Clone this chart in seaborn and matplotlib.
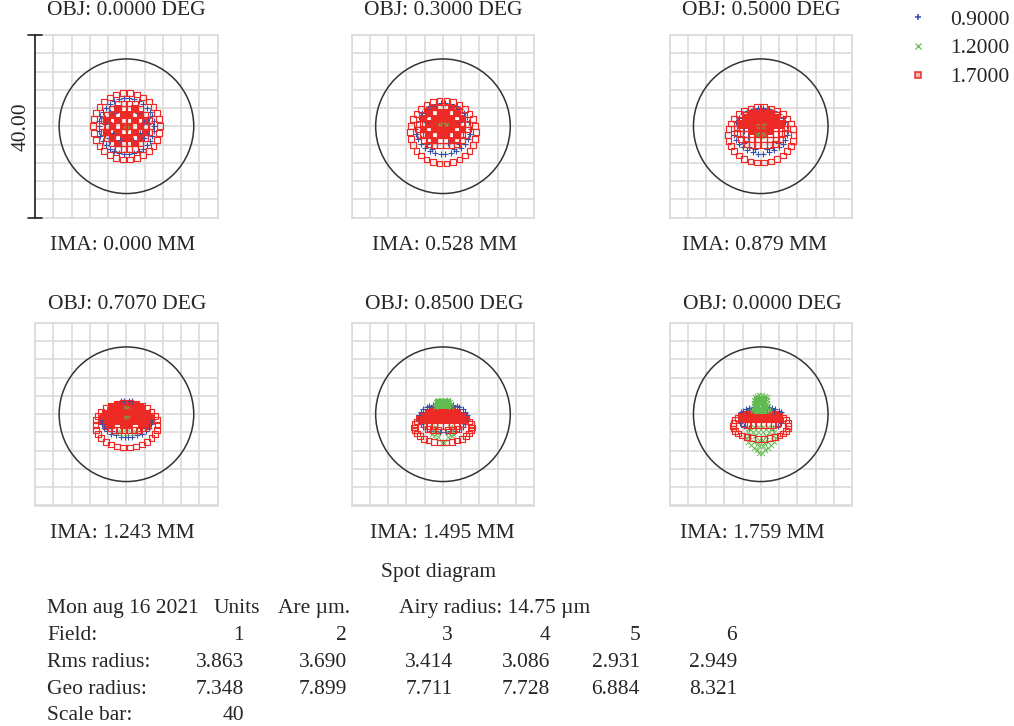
import matplotlib
matplotlib.use("Agg")
import matplotlib.pyplot as plt
from matplotlib.lines import Line2D
from matplotlib.patches import Circle
import pandas as pd
import seaborn as sns

# ---- text and table values ----
OBJ_LABELS = ["OBJ: 0.0000 DEG", "OBJ: 0.3000 DEG", "OBJ: 0.5000 DEG",
              "OBJ: 0.7070 DEG", "OBJ: 0.8500 DEG", "OBJ: 0.0000 DEG"]
IMA_LABELS = ["IMA: 0.000 MM", "IMA: 0.528 MM", "IMA: 0.879 MM",
              "IMA: 1.243 MM", "IMA: 1.495 MM", "IMA: 1.759 MM"]
WAVELENGTHS = ["0.9000", "1.2000", "1.7000"]
FIELDS = ["1", "2", "3", "4", "5", "6"]
RMS = ["3.863", "3.690", "3.414", "3.086", "2.931", "2.949"]
GEO = ["7.348", "7.899", "7.711", "7.728", "6.884", "8.321"]
SCALE_BAR = 40
AIRY_RADIUS = 14.75

# ---- spot positions (um); each list holds the x >= 0 half ----
P1_RED = [(0.76,7.26),(2.26,6.94),(3.65,6.32),(4.88,5.42),(5.91,4.29),(6.67,2.97),(7.14,1.52),(7.3,0),
          (7.14,-1.52),(6.67,-2.97),(5.91,-4.29),(4.88,-5.42),(3.65,-6.32),(2.26,-6.94),(0.76,-7.26),
          (0.6,5.0),(1.9,5.0),(0.6,3.8),(1.9,3.8),(3.1,3.8),(0.6,2.5),(1.9,2.5),(3.1,2.5),(4.2,2.5),
          (0.6,1.3),(1.9,1.3),(3.1,1.3),(4.3,1.3),(5.0,1.3),(0.6,0),(1.9,0),(3.1,0),(4.3,0),(5.3,0),
          (0.6,-1.3),(1.9,-1.3),(3.1,-1.3),(4.3,-1.3),(5.0,-1.3),(0.6,-2.5),(1.9,-2.5),(3.1,-2.5),(4.2,-2.5),
          (0.6,-3.8),(1.9,-3.8),(3.1,-3.8),(0.6,-5.0),(1.9,-5.0)]
P1_CORE = [(0.6,0),(3.1,0),(1.9,1.3),(4.3,1.3),(0.6,2.5),(3.1,2.5),(1.9,3.8),(1.9,-1.3),(4.3,-1.3),
           (0.6,-2.5),(3.1,-2.5),(1.9,-3.8)]
P1_BLUE = [(0.5,6.1),(1.6,5.9),(2.7,5.5),(3.7,4.9),(4.5,4.1),(5.2,3.2),(5.7,2.2),(6.0,1.1),(6.1,0),
           (6.0,-1.1),(5.7,-2.2),(5.2,-3.2),(4.5,-4.1),(3.7,-4.9),(2.7,-5.5),(1.6,-5.9),(0.5,-6.1),
           (1.2,4.4),(2.5,4.4),(3.6,3.2),(4.7,1.9),(4.8,0.6),(4.7,-1.9),(3.6,-3.2),(2.5,-4.4),(1.2,-4.4),
           (1.2,2.0),(2.5,3.0),(3.8,1.0),(3.0,-1.5),(1.5,-3.0),(3.8,-2.5)]
P1_GREEN = [(0.2,0.2),(0.4,-0.3),(0.1,-0.6)]

P2_RED = [(0.75,5.56),(2.22,5.26),(3.6,4.68),(4.82,3.83),(5.82,2.76),(6.58,1.51),(7.04,0.13),(7.2,-1.3),
          (7.04,-2.73),(6.58,-4.11),(5.82,-5.36),(4.82,-6.43),(3.6,-7.28),(2.22,-7.86),(0.75,-8.16),
          (0.6,4.1),(1.9,4.1),(3.1,3.7),(0.6,2.9),(1.9,2.9),(3.1,2.9),(4.2,2.6),(0.6,1.7),(1.9,1.7),(3.1,1.7),(4.3,1.7),
          (0.6,0.5),(1.9,0.5),(3.1,0.5),(4.3,0.5),(5.2,0.5),(0.6,-0.7),(1.9,-0.7),(3.1,-0.7),(4.3,-0.7),(5.3,-0.7),
          (0.6,-1.9),(1.9,-1.9),(3.1,-1.9),(4.3,-1.9),(5.0,-1.9),(0.6,-3.1),(1.9,-3.1),(3.1,-3.1),(4.1,-3.0),
          (0.6,-4.2),(1.9,-4.2),(3.0,-4.0)]
P2_CORE = [(0.6,2.9),(3.1,2.9),(1.9,1.7),(4.3,1.7),(0.6,0.5),(3.1,0.5),(1.9,-0.7),(4.3,-0.7),(0.6,-1.9),
           (3.1,-1.9),(1.9,-3.1),(1.9,4.1),(0.6,1.7),(1.9,0.5),(0.6,-0.7)]
P2_BLUE = [(0.5,5.0),(1.6,4.8),(2.8,4.4),(3.8,3.8),(4.6,3.0),(5.3,2.1),(5.8,1.0),(6.1,-0.5),(5.9,-1.7),
           (5.5,-2.9),(4.8,-3.9),(3.9,-4.8),(2.9,-5.4),(1.7,-5.9),(0.5,-6.1),(2.5,-5.0),(3.6,-3.8),(4.8,-2.5),
           (3.7,1.0),(3.7,-1.3),(2.5,-2.5),(1.2,-3.7)]
P2_GREEN = [(0.3,0.7),(1.1,0.6),(0.7,0.3)]

P3_RED = [(0.75,4.17),(2.22,3.9),(3.6,3.38),(4.82,2.63),(5.82,1.69),(6.58,0.58),(7.04,-0.63),(7.2,-1.9),
          (7.04,-3.17),(6.58,-4.38),(5.82,-5.49),(4.82,-6.43),(3.6,-7.18),(2.22,-7.7),(0.75,-7.97),
          (0.7,3.0),(2.0,2.9),(3.3,2.4),(0.7,1.9),(2.0,1.9),(3.3,1.7),(4.4,1.4),(0.7,0.7),(2.0,0.7),(3.3,0.7),(4.5,0.7),
          (0.7,-0.5),(2.0,-0.5),(3.3,-0.5),(4.5,-0.5),(5.3,-0.5),(0.7,-1.7),(2.0,-1.7),(3.3,-1.7),(4.5,-1.7),(5.2,-1.5),
          (0.7,-2.9),(2.0,-2.9),(3.3,-2.9),(4.3,-2.8),(0.7,-4.1),(2.0,-4.1),(3.1,-3.9)]
P3_CORE = [(0.7,3.0),(2.0,2.6),(0.7,1.9),(2.0,1.4),(3.3,1.7),(0.7,0.7),(2.0,0.2),(3.3,0.2),(0.7,-0.5),
           (4.5,0.3),(2.0,-1.2),(0.7,-1.7)]
P3_BLUE = [(0.5,3.95),(1.8,3.75),(3.0,3.3),(4.0,2.6),(4.8,1.9),(5.4,1.0),(5.8,0),(5.9,-1.0),(5.8,-2.0),
           (5.4,-3.0),(4.8,-3.9),(4.0,-4.6),(3.0,-5.3),(1.8,-5.75),(0.5,-6.0),(1.3,-5.0),(2.6,-4.6),(3.7,-3.6),
           (3.7,-1.1),(2.7,-2.3),(1.3,-3.4)]
P3_GREEN = [(0.2,0.2),(0.6,-0.2),(0.3,-1.4),(0.8,-1.7),(0.4,-2.4),(1.0,0.3)]

P4_RED = [(0.71,2.57),(2.1,2.36),(3.4,1.94),(4.55,1.33),(5.5,0.56),(6.21,-0.34),(6.65,-1.32),(6.8,-2.35),
          (6.65,-3.38),(6.21,-4.36),(5.5,-5.26),(4.55,-6.03),(3.4,-6.64),(2.1,-7.06),(0.71,-7.27),
          (0.5,-3.4),(1.6,-3.5),(2.7,-3.4),(3.7,-3.1),(4.6,-2.6)]
P4_CORE = [(0.7,2.2),(2.0,2.0),(3.1,1.5),(0.7,0.9),(2.1,0.9),(3.5,0.7),(4.6,0.2),(0.7,-0.4),(2.1,-0.4),(3.5,-0.4),
           (4.9,-0.6),(5.4,-0.9),(0.7,-1.6),(2.1,-1.6),(3.5,-1.6),(4.6,-1.6),(5.2,-1.6),(0.7,-2.4),(3.3,-2.5),(4.3,-2.4)]
P4_BLUE = [(0.5,3.0),(1.3,2.9),(5.6,-1.3),(5.4,-2.1),(4.9,-3.0),(4.2,-3.7),(3.3,-4.3),(2.3,-4.6),
           (1.2,-4.9),(0.3,-5.0),(4.1,-3.0),(3.1,-3.7)]
P4_GREEN = [(0.4,-3.5),(1.2,-3.9),(1.8,-3.6),(0.3,-4.3),(1.2,-4.4),(2.1,-4.2),(0.3,1.5),(0.4,-0.7)]

P5_RED = [(4.22,-0.45),(5.1,-0.96),(5.75,-1.56),(6.16,-2.21),(6.3,-2.9),(6.16,-3.59),(5.75,-4.24),(5.1,-4.84),
          (4.22,-5.35),(3.15,-5.76),(1.95,-6.04),(0.66,-6.18),(0.6,-2.5),(1.9,-2.5),(3.1,-2.5),(4.1,-2.2),
          (1.0,-3.5),(2.3,-3.5),(3.3,-3.2)]
P5_CORE = [(0.7,1.0),(2.1,0.9),(3.2,0.4),(0.7,-0.3),(2.1,-0.3),(3.5,-0.3),(4.5,-0.4),(0.7,-1.3),(2.1,-1.3),
           (3.5,-1.3),(4.5,-1.3),(5.0,-1.0)]
P5_BLUE = [(2.2,2.0),(3.0,1.8),(3.6,1.5),(1.8,1.6),(4.3,1.1),(4.8,0.5),(5.2,-0.2),(5.2,-1.2),(4.9,-2.1),
           (4.3,-2.8),(3.5,-3.3),(2.6,-3.6),(1.6,-3.7),(0.6,-3.8)]
P5_GREEN = [(0.4,3.2),(1.0,3.1),(1.5,2.7),(1.7,2.2),(1.7,1.6),(1.5,-2.7),(2.4,-3.0),(2.0,-3.7),
            (1.2,-4.1),(2.3,-4.3),(1.9,-4.8),(1.0,-4.9),(0.2,-6.3)]
P5_GREEN_CORE = [(0.5,1.9),(1.0,2.0),(0.5,2.6),(1.0,2.6)]

P6_RED = [(3.05,0.0),(4.08,-0.35),(4.93,-0.8),(5.57,-1.32),(5.97,-1.9),(6.1,-2.5),(5.97,-3.1),(5.57,-3.68),
          (4.93,-4.2),(4.08,-4.65),(3.05,-5.0),(1.89,-5.26),(0.64,-5.38),(0.6,-2.4),(1.7,-2.4),(2.8,-2.4),(3.7,-2.2)]
P6_CORE = [(0.7,-0.4),(2.1,-0.4),(3.5,-0.4),(4.1,-0.6),(0.7,-1.1),(2.1,-1.1),(3.5,-1.1),(4.1,-1.1)]
P6_BLUE = [(1.8,1.6),(2.5,1.4),(3.2,1.1),(3.9,0.8),(4.4,0.5),(2.2,0.9),(3.0,0.7),(1.7,0.9),(4.5,-1.9),(3.7,-2.6),(2.6,-3.0)]
P6_GREEN = [(0.3,4.3),(0.9,4.1),(1.3,3.7),(1.4,3.1),(1.4,2.5),(1.5,1.9),(1.8,1.2),(2.0,0.7),(0.5,-2.8),(1.5,-2.9),
            (2.5,-3.0),(0.6,-3.8),(1.7,-3.9),(2.9,-3.9),(1.2,-4.7),(2.6,-4.7),(3.3,-5.2),(2.8,-6.0),(2.2,-6.8),
            (1.5,-7.3),(0.9,-7.9),(0.3,-8.4),(1.5,-6.1),(0.7,-6.4),(0.4,-5.6),(0.4,-7.0)]
P6_GREEN_CORE = [(0.6,0.9),(0.9,1.7),(0.7,2.6),(0.6,3.3)]

PANEL_DATA = [
    {"blue": P1_BLUE, "green_speck": P1_GREEN, "red": P1_RED, "red_core": P1_CORE},
    {"blue": P2_BLUE, "green_speck": P2_GREEN, "red": P2_RED, "red_core": P2_CORE},
    {"blue": P3_BLUE, "green_speck": P3_GREEN, "red": P3_RED, "red_core": P3_CORE},
    {"blue": P4_BLUE, "green_speck": P4_GREEN, "red": P4_RED, "red_core": P4_CORE},
    {"blue": P5_BLUE, "green": P5_GREEN, "red": P5_RED, "red_core": P5_CORE, "green_core": P5_GREEN_CORE},
    {"blue": P6_BLUE, "green": P6_GREEN, "red": P6_RED, "red_core": P6_CORE, "green_core": P6_GREEN_CORE},
]

# ---- long-form table (spot diagrams are mirror-symmetric about x = 0) ----
rows = []
for i, panel in enumerate(PANEL_DATA):
    for series, pts in panel.items():
        for x, y in pts:
            rows.append((i, series, x, y))
            rows.append((i, series, -x, y))
spots = pd.DataFrame(rows, columns=["panel", "series", "x", "y"])

# ---- style ----
sns.set_theme(style="white")
plt.rcParams["font.family"] = ["Liberation Serif", "DejaVu Serif"]
W, H = 1014, 726
FS = 15.5
TXT = "#262626"
BLUE, GREEN, RED = "#3350a8", "#62bb50", "#ee2a26"
GRID = "#dcdcdc"
STYLE = {
    "red_core": dict(marker="s", s=28, color=RED, linewidth=0),
    "blue": dict(marker="+", s=22, color=BLUE, linewidth=0.8),
    "green_core": dict(marker="s", s=26, color=GREEN, linewidth=0),
    "green": dict(marker="x", s=14, color=GREEN, linewidth=0.65),
    "green_speck": dict(marker="x", s=6, color=GREEN, linewidth=0.5),
    "red": dict(marker="s", s=17, color=RED, linewidth=0.85),
}

fig = plt.figure(figsize=(W / 100, H / 100), dpi=100, facecolor="white")
SIZE = 182.5
LEFTS = [35.2, 351.7, 669.5]
TOPS = [35, 323]
OBJ_POS = [(126, 8), (443, 8), (761, 8), (127, 302), (444, 302), (762, 302)]
IMA_POS = [(122.5, 243), (444, 243), (754, 243), (122, 531), (442.5, 531), (752.5, 531)]


def put(px, py, s, ha="left", **kw):
    fig.text(px / W, 1 - py / H, s, ha=ha, va="center_baseline", fontsize=FS, color=TXT, **kw)


for i in range(6):
    left, top = LEFTS[i % 3], TOPS[i // 3]
    ax = fig.add_axes([left / W, 1 - (top + SIZE) / H, SIZE / W, SIZE / H])
    half = SCALE_BAR / 2
    ax.set_xlim(-half, half)
    ax.set_ylim(-half, half)
    ticks = list(range(-20, 21, 4))
    ax.set_xticks(ticks)
    ax.set_yticks(ticks)
    ax.tick_params(length=0, labelbottom=False, labelleft=False)
    ax.set_axisbelow(True)
    ax.grid(True, color=GRID, linewidth=1.25)
    for sp in ax.spines.values():
        sp.set_color(GRID)
        sp.set_linewidth(1.25)
    ax.add_patch(Circle((0, 0), AIRY_RADIUS, fill=False, edgecolor="#333333", linewidth=1.1, zorder=2))
    for series in ["red_core", "blue", "green_core", "green", "green_speck", "red"]:
        sub = spots[(spots.panel == i) & (spots.series == series)]
        if sub.empty:
            continue
        st = STYLE[series]
        sns.scatterplot(data=sub, x="x", y="y", ax=ax, legend=False, zorder=3, **st)
        coll = ax.collections[-1]
        if series == "red":
            coll.set_facecolor("none")
            coll.set_edgecolor(st["color"])
            coll.set_linewidth(st["linewidth"])
        elif st["marker"] == "s":
            coll.set_edgecolor("none")
    ax.set_xlabel("")
    ax.set_ylabel("")
    put(OBJ_POS[i][0], OBJ_POS[i][1], OBJ_LABELS[i], ha="center")
    put(IMA_POS[i][0], IMA_POS[i][1], IMA_LABELS[i], ha="center")
    if i == 0:
        ax.plot([-half, -half], [-half, half], color="#222222", lw=1.2, clip_on=False, zorder=5)
        for yy in (-half, half):
            ax.plot([-half - 1.6, -half + 1.4], [yy, yy], color="#222222", lw=1.2, clip_on=False, zorder=5)
        fig.text(21.5 / W, 1 - 127 / H, f"{SCALE_BAR:.2f}", rotation=90, ha="center", va="center",
                 fontsize=FS, color=TXT)

# ---- legend ----
handles = [
    Line2D([], [], linestyle="none", marker="+", markersize=4.5, markeredgewidth=1.1, color=BLUE),
    Line2D([], [], linestyle="none", marker="x", markersize=4.5, markeredgewidth=0.9, color=GREEN),
    Line2D([], [], linestyle="none", marker="s", markersize=4.6, markeredgewidth=1.1, color=RED,
           markerfacecolor="#f7b5b0"),
]
fig.legend(handles, WAVELENGTHS, loc="upper left", bbox_to_anchor=(900 / W, 1 - 3 / H), frameon=False,
           fontsize=FS, labelcolor=TXT, handlelength=1.1, handletextpad=0.93, labelspacing=0.41,
           borderpad=0.3, borderaxespad=0)

# ---- footer table ----
put(439, 570, "Spot diagram", ha="center")
ROW_Y = [605.7, 633, 660, 686.7, 712.7]
COL_R = [244, 347, 453, 550, 640, 737]
put(47, ROW_Y[0], "Mon aug 16 2021")
put(260, ROW_Y[0], "Units", ha="right")
put(350, ROW_Y[0], "Are µm.", ha="right")
put(399, ROW_Y[0], f"Airy radius: {AIRY_RADIUS} µm")
for y, label, vals in [(ROW_Y[1], "Field:", FIELDS), (ROW_Y[2], "Rms radius:", RMS), (ROW_Y[3], "Geo radius:", GEO)]:
    put(47, y, label)
    for xr, v in zip(COL_R, vals):
        put(xr, y, v, ha="right")
put(47, ROW_Y[4], "Scale bar:")
put(COL_R[0], ROW_Y[4], str(SCALE_BAR), ha="right")

fig.savefig("out.png", dpi=100, facecolor="white")
